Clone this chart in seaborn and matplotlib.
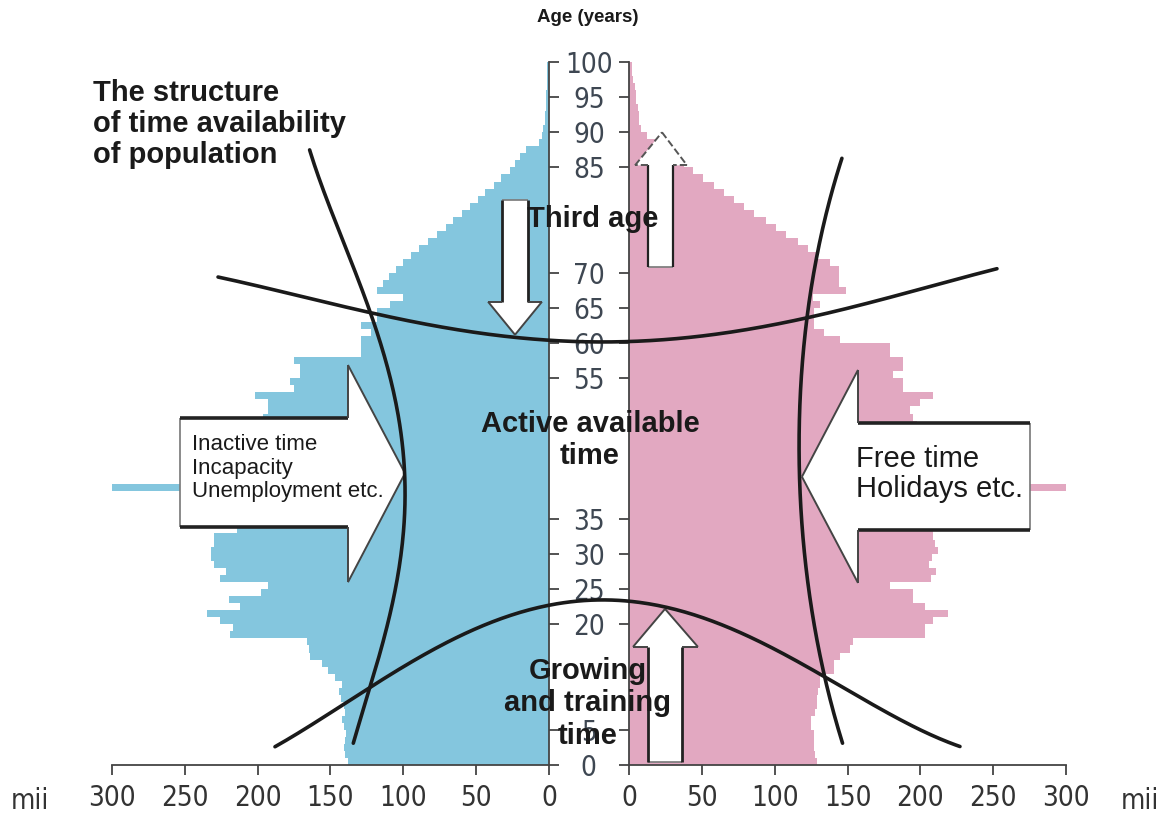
import matplotlib.pyplot as plt
import numpy as np
import pandas as pd
import seaborn as sns
from matplotlib.patches import Polygon

# population by single year of age, thousands ("mii")
ages = list(range(0, 101))
male = [138, 140, 141, 140, 139, 141, 142, 140, 141, 143,
        144, 142, 147, 152, 156, 164, 165, 166, 219, 217,
        226, 235, 212, 220, 198, 193, 226, 222, 230, 232,
        232, 230, 230, 214, 212, 215, 218, 221, 224, 314,
        228, 226, 224, 220, 216, 212, 208, 204, 200, 196,
        193, 193, 202, 175, 178, 171, 171, 175, 129, 129,
        129, 122, 129, 118, 118, 109, 100, 118, 114, 110,
        105, 100, 95, 89, 83, 77, 71, 66, 60, 54,
        49, 44, 38, 33, 27, 23, 20, 16, 7, 5,
        4, 3, 3, 2, 2, 2, 1, 1, 1, 1, 0]
female = [129, 128, 127, 127, 127, 125, 125, 128, 129, 129,
          130, 131, 131, 141, 141, 145, 152, 154, 203, 203,
          209, 219, 203, 195, 195, 179, 207, 211, 206, 208,
          212, 210, 209, 209, 210, 212, 214, 216, 218, 301,
          222, 220, 218, 215, 212, 208, 205, 202, 198, 195,
          193, 200, 209, 188, 188, 181, 188, 188, 179, 179,
          145, 134, 127, 127, 127, 131, 126, 149, 144, 144,
          144, 138, 130, 123, 116, 108, 101, 94, 86, 79,
          72, 65, 58, 51, 44, 38, 33, 27, 20, 12,
          8, 7, 7, 6, 5, 5, 4, 3, 2, 2, 1]
age_ticks = [0, 5, 20, 25, 30, 35, 55, 60, 65, 70, 85, 90, 95, 100]
pop_ticks = [0, 50, 100, 150, 200, 250, 300]

# annotation geometry in (signed population incl. centre gap, age)
curve_left = [(-191.6, 87.5), (-167.5, 73.3), (-144.9, 61.9), (-133.2, 51.9),
              (-126.3, 41.5), (-131.1, 29.2), (-138.0, 19.2), (-150.4, 11.1),
              (-162.0, 3.1)]
curve_right = [(173.7, 86.3), (158.6, 74.7), (149.7, 63.7), (144.9, 41.0),
               (153.8, 19.2), (163.4, 12.5), (173.7, 3.1)]
arc_top = [(-254.7, 69.4), (-148.3, 64.4), (-97.5, 61.9), (-52.2, 61.0),
           (0.7, 60.2), (149.7, 63.6), (280.1, 70.6)]
arc_bottom = [(-215.6, 2.6), (-150.4, 11.1), (-74.8, 19.2), (-26.8, 23.2),
              (0.7, 23.8), (50.8, 22.0), (163.4, 12.5), (254.7, 2.6)]

BLUE = "#84c6de"
PINK = "#e2a8c1"
INK = "#1a1a1a"
TICK = "#3e4752"
GAP = 55

sns.set_theme(style="white")
plt.rcParams["font.family"] = ["Liberation Sans", "DejaVu Sans"]
narrow = dict(family="DejaVu Sans", stretch="condensed")

df = pd.DataFrame({"age": np.array(ages) + 0.5, "male": male, "female": female})

fig = plt.figure(figsize=(11.69, 8.16), dpi=100)
x0, x1, y0, h = 112 / 1169, 1066 / 1169, 51 / 816, 703 / 816
w = x1 - x0
span = 600 + GAP
ax_l = fig.add_axes([x0, y0, w * 300 / span, h])
ax_r = fig.add_axes([x0 + w * (300 + GAP) / span, y0, w * 300 / span, h])
ov = fig.add_axes([x0, y0, w, h])

sns.barplot(data=df, x="male", y="age", orient="y", native_scale=True, width=1,
            color=BLUE, saturation=1, errorbar=None, linewidth=0, ax=ax_l)
sns.barplot(data=df, x="female", y="age", orient="y", native_scale=True, width=1,
            color=PINK, saturation=1, errorbar=None, linewidth=0, ax=ax_r)

for ax, side in [(ax_l, "right"), (ax_r, "left")]:
    ax.set_ylim(0, 100)
    ax.set_xlabel("")
    ax.set_ylabel("")
    for s in ["top", "left", "right"]:
        ax.spines[s].set_visible(s == side)
    for s in ["bottom", side]:
        ax.spines[s].set_color("#444")
        ax.spines[s].set_linewidth(1.3)
    ax.set_xticks(pop_ticks, labels=[str(t) for t in pop_ticks],
                  fontsize=20, color="#333", **narrow)
    ax.tick_params(axis="x", direction="out", length=7, width=1.3,
                   color="#444", pad=7, bottom=True)
    ax.patch.set_alpha(0)

ax_l.set_xlim(300, 0)
ax_r.set_xlim(0, 300)

ax_l.yaxis.tick_right()
ax_l.set_yticks(age_ticks)
ax_l.tick_params(axis="y", direction="out", length=7, width=1.3, color="#444",
                 right=True, left=False, labelright=False, labelleft=False)
ax_r.set_yticks(age_ticks, labels=[str(a) for a in age_ticks], ha="center",
                fontsize=20, color=TICK, **narrow)
ax_r.tick_params(axis="y", direction="out", length=7, width=1.3, color="#444",
                 left=True, right=False, labelleft=True, pad=22)

# overlay for the scheme drawn on top of the pyramid
ov.set_xlim(-span / 2, span / 2)
ov.set_ylim(0, 100)
ov.axis("off")
ov.patch.set_alpha(0)


def smooth(pts, along_age):
    p = np.array(pts)
    if along_age:
        c = np.polyfit(p[:, 1], p[:, 0], 4)
        yy = np.linspace(p[:, 1].min(), p[:, 1].max(), 200)
        ov.plot(np.polyval(c, yy), yy, color=INK, lw=2.6, zorder=6, clip_on=False)
    else:
        c = np.polyfit(p[:, 0], p[:, 1], 4)
        xx = np.linspace(p[:, 0].min(), p[:, 0].max(), 300)
        ov.plot(xx, np.polyval(c, xx), color=INK, lw=2.6, zorder=6, clip_on=False)


def block_arrow(tail, base, tip, shaft, head, mid, vertical=False,
                side_lw=2.6, head_ls="-", head_col="#444"):
    pts = [(tail, shaft[0]), (base, shaft[0]), (base, head[0]), (tip, mid),
           (base, head[1]), (base, shaft[1]), (tail, shaft[1])]
    if vertical:
        pts = [(b, a) for a, b in pts]
    ov.add_patch(Polygon(pts, closed=True, fc="white", ec="none", zorder=3,
                         clip_on=False))
    xs, ys = zip(*pts)

    def seg(i, j, **kw):
        ov.plot([xs[i], xs[j]], [ys[i], ys[j]], clip_on=False, zorder=4,
                solid_capstyle="butt", **kw)

    seg(6, 0, color="#777", lw=1.2)
    seg(0, 1, color="#222", lw=side_lw)
    seg(5, 6, color="#222", lw=side_lw)
    for i, j in [(1, 2), (2, 3), (3, 4), (4, 5)]:
        seg(i, j, color=head_col, lw=1.4, ls=head_ls)


block_arrow(-280.8, -165.5, -126.3, (33.9, 49.4), (26.0, 56.9), 41.5)
block_arrow(302.8, 184.7, 146.2, (33.4, 48.6), (25.9, 56.2), 41.0)
block_arrow(80.4, 65.9, 61.2, (-59.7, -41.9), (-69.3, -32.3), -50.8,
            vertical=True, side_lw=2.0)
block_arrow(70.8, 85.3, 90.0, (40.5, 57.7), (31.6, 67.3), 50.1,
            vertical=True, side_lw=1.6, head_ls="--", head_col="#555")
block_arrow(0.4, 16.8, 22.2, (40.5, 63.9), (30.2, 74.8), 52.2,
            vertical=True, side_lw=2.0)

smooth(curve_left, True)
smooth(curve_right, True)
smooth(arc_top, False)
smooth(arc_bottom, False)

bold = dict(fontsize=21, fontweight="bold", color=INK, zorder=7)
ov.text(-340.5, 91.2, "The structure\nof time availability\nof population",
        ha="left", va="center", linespacing=1.15, **bold)
ov.text(2.7, 77.7, "Third age", ha="center", va="center", **bold)
ov.text(0.7, 46.2, "Active available\ntime", ha="center", va="center",
        linespacing=1.2, **bold)
ov.text(-0.7, 8.8, "Growing\nand training\ntime", ha="center", va="center",
        linespacing=1.2, **bold)
ov.text(-272.6, 42.2, "Inactive time\nIncapacity\nUnemployment etc.",
        ha="left", va="center", fontsize=16, color=INK, linespacing=1.15, zorder=7)
ov.text(183.3, 41.4, "Free time\nHolidays etc.", ha="left", va="center",
        fontsize=21, color=INK, linespacing=1.1, zorder=7)

fig.text(588 / 1169, 1 - 18 / 816, "Age (years)", ha="center", va="center",
         fontsize=13.5, fontweight="bold", color=INK)
fig.text(30 / 1169, 1 - 801 / 816, "mii", ha="center", va="center",
         fontsize=20, color="#333", **narrow)
fig.text(1140 / 1169, 1 - 801 / 816, "mii", ha="center", va="center",
         fontsize=20, color="#333", **narrow)

fig.savefig("out.png", dpi=100)
